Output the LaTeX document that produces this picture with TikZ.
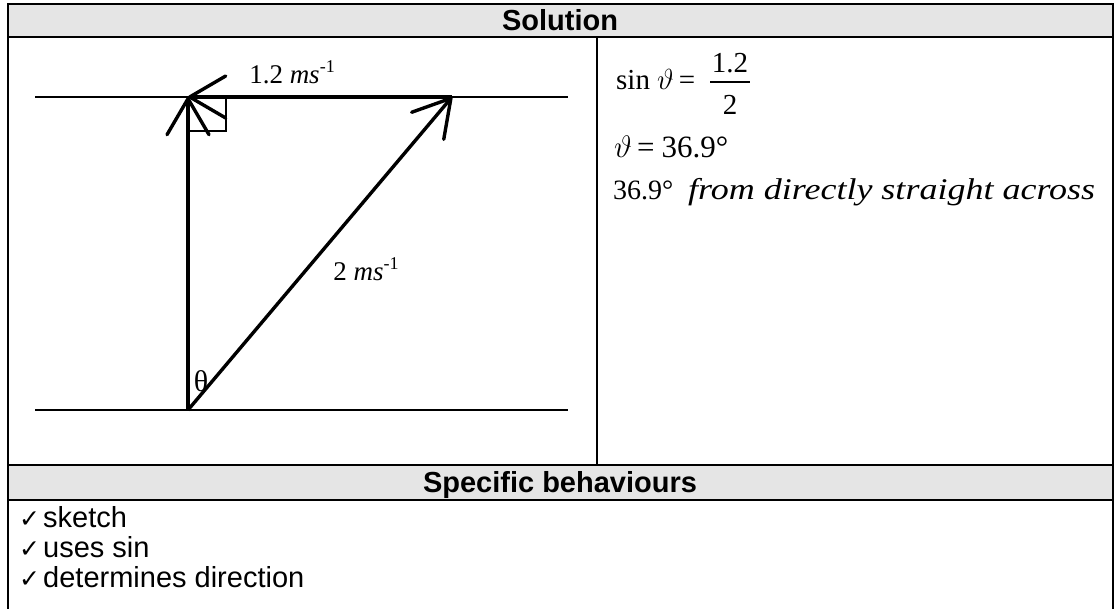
\RequirePackage{fix-cm}
\documentclass[tikz,border=0pt]{standalone}
\usepackage{fontspec}
\setmainfont{Liberation Serif}
\newfontfamily\arial{Liberation Sans}
\newfontfamily\dejavu{DejaVu Sans}
\usetikzlibrary{arrows.meta}
\definecolor{hdr}{RGB}{229,229,229}
\newcommand{\chk}{{\dejavu\fontsize{25}{25}\selectfont ✓}}
\newcommand{\invms}{\textit{ms}\raisebox{0.42em}{\fontsize{18}{18}\selectfont -1}}
\begin{document}
\begin{tikzpicture}[x=1pt,y=-1pt,
  border/.style={line width=2.5pt},
  rowrule/.style={line width=2pt},
  thinline/.style={line width=1.4pt},
  vec/.style={line width=3.4pt,-{Straight Barb[length=36pt,width=42pt,round]}},
  hdrtext/.style={font=\arial\bfseries\fontsize{29}{34}\selectfont,inner sep=0pt,anchor=base},
  itemtext/.style={font=\arial\fontsize{29}{34}\selectfont,inner sep=0pt,anchor=base west},
  eqtext/.style={font=\fontsize{29}{34}\selectfont,inner sep=0pt,anchor=base west},
  bodytext/.style={font=\fontsize{28}{32}\selectfont,inner sep=0pt,anchor=base west},
  lbl/.style={font=\fontsize{27}{32}\selectfont,inner sep=0pt,anchor=base},
]
\useasboundingbox (0,0) rectangle (1117,609);
% table
\fill[hdr] (8,4) rectangle (1113,37);
\fill[hdr] (8,465) rectangle (1113,500);
\draw[rowrule] (8,37) -- (1113,37);
\draw[rowrule] (8,465) -- (1113,465);
\draw[rowrule] (8,500) -- (1113,500);
\draw[thinline] (597,37) -- (597,465);
\draw[border] (8,609) -- (8,4) -- (1113,4) -- (1113,609);
\node[hdrtext] (sol) at (560,31) {Solution};
\node[hdrtext] (spec) at (560,493) {Specific behaviours};
% list
\node[itemtext] (c1) at (19,527) {\chk};
\node[itemtext] (i1) at (43,527) {sketch};
\node[itemtext] (c2) at (19,557) {\chk};
\node[itemtext] (i2) at (43,557) {uses sin};
\node[itemtext] (c3) at (19,587) {\chk};
\node[itemtext] (i3) at (43,587) {determines direction};
% diagram
\draw[thinline] (35,97) -- (568,97);
\draw[thinline] (35,410) -- (568,410);
\draw[thinline] (188,131) -- (226,131) -- (226,97);
\coordinate (O) at (188,410);
\coordinate (A) at (188,97);
\coordinate (B) at (452,97);
\draw[vec] (O) -- (A);
\draw[vec] (B) -- (A);
\draw[vec] (O) -- (B);
\node[lbl] (l1) at (292,84) {1.2 \invms};
\node[lbl] (l2) at (366,281) {2 \invms};
\node[lbl,font=\fontsize{30}{34}\selectfont] (th) at (201,392) {θ};
% right column
\node[eqtext] (e1) at (616,90) {sin\hspace{7pt}$\vartheta$\hspace{5pt}=};
\node[eqtext,anchor=base] (num) at (730,73) {1.2};
\draw[thinline] (710,82) -- (750,82);
\node[eqtext,anchor=base] (den) at (730,115) {2};
\node[eqtext,font=\fontsize{31}{36}\selectfont] (e2) at (614,158) {$\vartheta$\hspace{5pt}=\hspace{7pt}36.9°};
\node[bodytext] (e3) at (613,200) {36.9°};
\node[bodytext] (e3b) at (688,200) {\scalebox{1.2}[1]{\fontsize{30}{34}\selectfont\itshape from directly straight across}};
\end{tikzpicture}
\end{document}
